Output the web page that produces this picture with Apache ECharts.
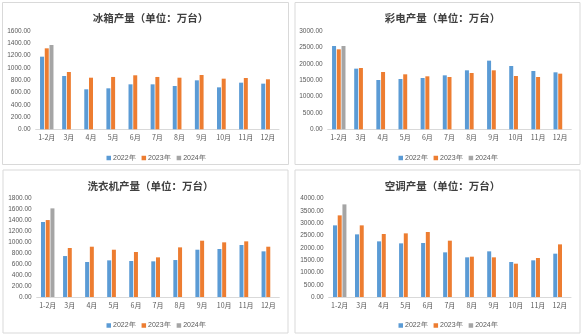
<!DOCTYPE html>
<html>
<head>
<meta charset="utf-8">
<script src="https://cdn.jsdelivr.net/npm/echarts@6/dist/echarts.min.js"></script>
<style>
html,body{margin:0;padding:0;background:#fff;}
#c{width:584px;height:336px;}
</style>
</head>
<body>
<div id="c"></div>
<script>
// Monthly output of household appliances, unit: 10k sets
const months = ['1-2月','3月','4月','5月','6月','7月','8月','9月','10月','11月','12月'];
const years = ['2022年','2023年','2024年'];

const fridge2022 = [1182, 868, 651, 667, 732, 732, 705, 797, 683, 759, 743];
const fridge2023 = [1318, 933, 840, 852, 879, 852, 840, 884, 824, 835, 814];
const fridge2024 = [1372, null, null, null, null, null, null, null, null, null, null];

const tv2022 = [2542, 1851, 1505, 1536, 1566, 1647, 1800, 2095, 1932, 1780, 1739];
const tv2023 = [2441, 1871, 1749, 1678, 1617, 1597, 1719, 1800, 1627, 1597, 1698];
const tv2024 = [2542, null, null, null, null, null, null, null, null, null, null];

const washer2022 = [1373, 750, 641, 671, 659, 653, 677, 866, 879, 952, 836];
const washer2023 = [1409, 897, 921, 866, 824, 726, 909, 1031, 1001, 1019, 921];
const washer2024 = [1623, null, null, null, null, null, null, null, null, null, null];

const ac2022 = [2915, 2549, 2264, 2183, 2197, 1817, 1614, 1858, 1424, 1492, 1763];
const ac2023 = [3322, 2915, 2563, 2590, 2644, 2292, 1641, 1614, 1356, 1586, 2142];
const ac2024 = [3769, null, null, null, null, null, null, null, null, null, null];

const titles = ['冰箱产量（单位：万台）','彩电产量（单位：万台）','洗衣机产量（单位：万台）','空调产量（单位：万台）'];
const yMax = [1600, 3000, 1800, 4000];
const yStep = [200, 500, 200, 500];

const panelData = [
  [fridge2022, fridge2023, fridge2024],
  [tv2022, tv2023, tv2024],
  [washer2022, washer2023, washer2024],
  [ac2022, ac2023, ac2024]
];

const colors = ['#5B9BD5', '#ED7D31', '#A5A5A5'];

// panel frames: [x, y, w, h]
const frames = [[2.5, 2.5, 286, 162], [295, 2.5, 285, 162], [3, 170, 285, 163], [295, 170, 285, 163]];
// plot areas: [left, top, right, bottom] in page pixels
const plots = [[35.7, 31, 279, 129.3], [327.7, 31, 571.3, 129.3], [36.7, 198.7, 279.3, 297], [328.7, 198.7, 571, 297]];

const option = {
  animation: false,
  backgroundColor: '#fff',
  title: [], legend: [], grid: [], xAxis: [], yAxis: [], series: [],
  graphic: frames.map(f => ({
    type: 'rect', shape: {x: f[0], y: f[1], width: f[2], height: f[3]},
    style: {fill: 'none', stroke: '#d9d9d9', lineWidth: 1}, silent: true, z: -1
  }))
};

for (let i = 0; i < 4; i++) {
  const p = plots[i];
  const f = frames[i];
  const cx = f[0] + f[2] / 2;
  option.title.push({
    text: titles[i], left: cx, top: f[1] + 5.5, textAlign: 'center',
    textStyle: {fontFamily: 'Noto Sans CJK SC', fontSize: 10.5, fontWeight: 'bold', color: '#404040'}
  });
  option.legend.push({
    data: years, left: cx - 44, top: f[1] + 147,
    itemWidth: 4.5, itemHeight: 4.5, itemGap: 6, icon: 'rect',
    textStyle: {fontSize: 7, color: '#595959', fontFamily: 'Liberation Sans', padding: [0, 0, 0, -3]}
  });
  option.grid.push({left: p[0], top: p[1], width: p[2] - p[0], height: p[3] - p[1], containLabel: false});
  option.xAxis.push({
    type: 'category', gridIndex: i, data: months,
    axisLine: {lineStyle: {color: '#d9d9d9', width: 1}},
    axisTick: {show: false},
    axisLabel: {fontSize: 7, color: '#595959', margin: 5, interval: 0, fontFamily: 'Noto Sans CJK SC'}
  });
  option.yAxis.push({
    type: 'value', gridIndex: i, min: 0, max: yMax[i], interval: yStep[i],
    axisLine: {show: false}, axisTick: {show: false}, splitLine: {show: false},
    axisLabel: {fontSize: 6.5, color: '#595959', margin: 5, fontFamily: 'Liberation Sans',
      formatter: v => v.toFixed(2)}
  });
  for (let s = 0; s < 3; s++) {
    option.series.push({
      type: 'bar', name: years[s], xAxisIndex: i, yAxisIndex: i,
      data: panelData[i][s], barWidth: 4, barGap: '18%',
      itemStyle: {color: colors[s]}
    });
  }
}

const chart = echarts.init(document.getElementById('c'), null, {renderer: 'canvas'});
chart.setOption(option);
</script>
</body>
</html>
